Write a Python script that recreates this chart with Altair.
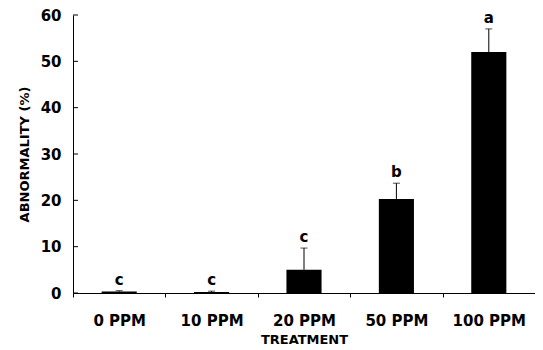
import altair as alt
import pandas as pd

treatments = ["0 PPM", "10 PPM", "20 PPM", "50 PPM", "100 PPM"]
means = [0.3, 0.2, 5.0, 20.3, 52.0]
uppers = [0.5, 0.4, 9.7, 23.7, 57.0]
letters = ["c", "c", "c", "b", "a"]
y_ticks = [0, 10, 20, 30, 40, 50, 60]

df = pd.DataFrame({"t": treatments, "m": means, "u": uppers, "l": letters})
tick_df = pd.DataFrame({"v": y_ticks})

FONT = "DejaVu Sans"
style = dict(labelFont=FONT, labelFontSize=15, labelFontWeight="bold",
             titleFont=FONT, titleFontSize=13, titleFontWeight="bold",
             labelColor="black", titleColor="black",
             domainColor="black", tickColor="black", grid=False)

x_axis = alt.Axis(title="TREATMENT", labelAngle=0,
                  tickBand="extent", tickSize=4,
                  labelPadding=16, titlePadding=5, labelFlush=False, **style)
x_scale = alt.Scale(paddingInner=0, paddingOuter=0)
y_axis = alt.Axis(title="ABNORMALITY (%)", values=y_ticks, ticks=False,
                  labelPadding=12, titlePadding=9, **style)
y_scale = alt.Scale(domain=[0, 60], nice=False)


def X():
    return alt.X("t:N", sort=treatments, scale=x_scale, axis=x_axis)


def Y(f):
    return alt.Y(f, scale=y_scale, axis=y_axis)


base = alt.Chart(df)

bars = base.mark_bar(color="black", width=alt.RelativeBandSize(0.38)).encode(
    x=X(), y=Y("m:Q"))

err = base.mark_rule(color="black", strokeWidth=1).encode(
    x=X(), y=Y("m:Q"), y2="u:Q")

caps = base.mark_tick(color="black", thickness=1, size=7, orient="horizontal").encode(
    x=X(), y=Y("u:Q"))

labels = base.mark_text(font=FONT, fontSize=15, fontWeight="bold", color="black",
                        baseline="bottom", dy=-3).encode(
    x=X(), y=Y("u:Q"), text="l:N")

yticks = alt.Chart(tick_df).mark_rule(color="black", strokeWidth=1).encode(
    y=Y("v:Q"), x=alt.value(0), x2=alt.value(5))

chart = alt.layer(bars, err, caps, labels, yticks).properties(
    width=462, height=278,
    background="white",
    autosize=alt.AutoSizeParams(type="none"),
    padding={"left": 65, "top": 7, "right": 0, "bottom": 55},
).configure_view(strokeWidth=0, stroke=None)

chart.save("out.html", embed_options={"renderer": "svg", "actions": False})
